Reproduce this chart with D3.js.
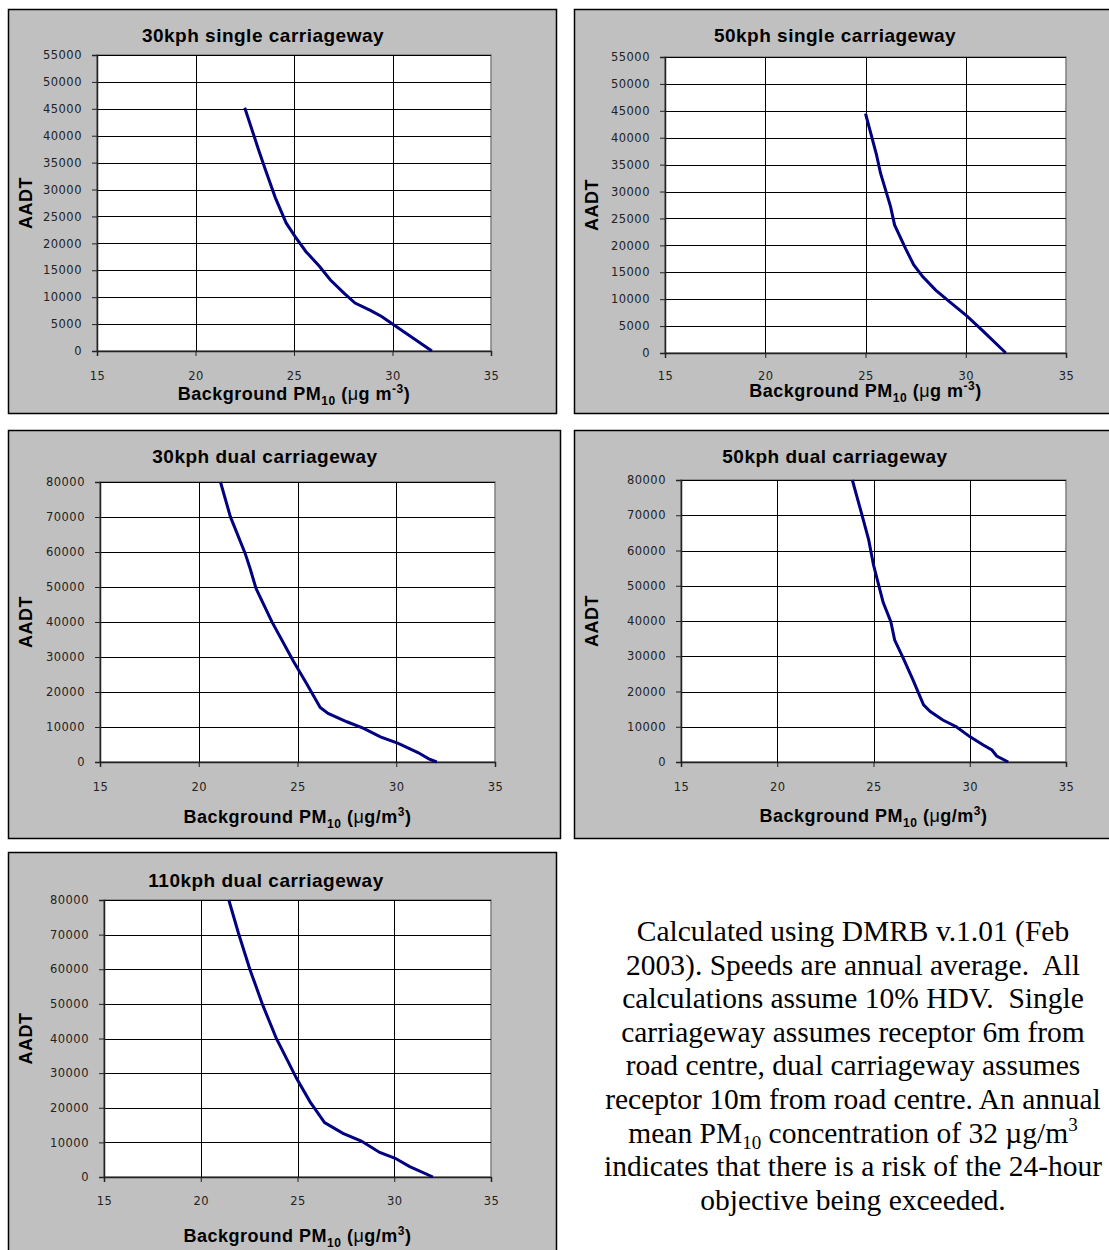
<!DOCTYPE html>
<html>
<head>
<meta charset="utf-8">
<script src="https://cdn.jsdelivr.net/npm/d3@7"></script>
<style>
  body { margin: 0; background: #fff; }
  svg { display: block; }
</style>
</head>
<body>
<svg id="chart" width="1109" height="1250"></svg>
<script>
// PM10 vs AADT charts

// Data

var xTicks = [15, 20, 25, 30, 35];
var yTicksSingle = [0, 5000, 10000, 15000, 20000, 25000, 30000, 35000, 40000, 45000, 50000, 55000];
var yTicksDual = [0, 10000, 20000, 30000, 40000, 50000, 60000, 70000, 80000];

var pm30Single   = [32.0, 30.0, 29.45, 28.9, 28.1, 27.55, 26.85, 26.3, 25.6, 25.05, 24.6, 24.05, 23.5, 23.2, 22.5];
var aadt30Single = [0, 5000, 6400, 7500, 8900, 10700, 13200, 15700, 18500, 21300, 23800, 28500, 34200, 37400, 45200];

var pm50Single   = [32.0, 30.8, 30.05, 29.2, 28.5, 27.85, 27.4, 27.0, 26.45, 26.25, 25.75, 25.55, 25.0];
var aadt50Single = [0, 4300, 6900, 9500, 11700, 14200, 16400, 19400, 23800, 27200, 33400, 36800, 44500];

var pm30Dual   = [32.05, 31.65, 31.1, 30.1, 29.2, 28.35, 27.5, 26.55, 26.15, 25.45, 24.8, 23.7, 22.9, 22.6, 22.35, 21.6, 21.1];
var aadt30Dual = [0, 900, 2700, 5300, 7200, 9600, 11500, 13900, 15600, 22500, 28700, 40100, 49600, 55300, 59600, 70100, 80000];

var pm50Dual   = [32.0, 31.4, 31.15, 30.7, 30.0, 29.3, 28.6, 27.95, 27.6, 27.05, 26.55, 26.1, 25.9, 25.5, 25.0, 24.75, 24.4, 23.9];
var aadt50Dual = [0, 1700, 3400, 4800, 7200, 10000, 11900, 14300, 16200, 23300, 29400, 34600, 39800, 45300, 55900, 63000, 70100, 80000];

var pm110Dual   = [32.0, 30.8, 30.05, 29.25, 28.3, 27.35, 26.4, 25.65, 24.95, 23.9, 23.2, 22.55, 21.95, 21.45];
var aadt110Dual = [0, 3000, 5400, 7100, 10400, 12600, 15700, 21700, 28500, 40100, 49700, 59800, 70400, 80000];

var titles = ["30kph single carriageway", "50kph single carriageway", "30kph dual carriageway",
              "50kph dual carriageway", "110kph dual carriageway"];

var noteLines = [
    "Calculated using DMRB v.1.01 (Feb",
    "2003). Speeds are annual average.  All",
    "calculations assume 10% HDV.  Single",
    "carriageway assumes receptor 6m from",
    "road centre, dual carriageway assumes",
    "receptor 10m from road centre. An annual",
    "mean PM|10| concentration of 32 \u00b5g/m^3^",
    "indicates that there is a risk of the 24-hour",
    "objective being exceeded."
];

// Panel layout

var panels = [
    { title: titles[0], pm: pm30Single, aadt: aadt30Single, yTicks: yTicksSingle, yMax: 55000,
      box: [8, 9, 548, 404], plot: [97, 491, 55, 351], titleX: 263, titleY: 42, tickY: 376, xTitleY: 400, unit: "single" },
    { title: titles[1], pm: pm50Single, aadt: aadt50Single, yTicks: yTicksSingle, yMax: 55000,
      box: [574, 9, 540, 404], plot: [665, 1066, 57, 353], titleX: 835, titleY: 42, tickY: 376, xTitleY: 397, unit: "single" },
    { title: titles[2], pm: pm30Dual, aadt: aadt30Dual, yTicks: yTicksDual, yMax: 80000,
      box: [8, 430, 552, 408], plot: [100, 495, 482, 762], titleX: 265, titleY: 463, tickY: 787, xTitleY: 823, unit: "dual" },
    { title: titles[3], pm: pm50Dual, aadt: aadt50Dual, yTicks: yTicksDual, yMax: 80000,
      box: [574, 430, 540, 408], plot: [681, 1066, 480, 762], titleX: 835, titleY: 463, tickY: 787, xTitleY: 822, unit: "dual" },
    { title: titles[4], pm: pm110Dual, aadt: aadt110Dual, yTicks: yTicksDual, yMax: 80000,
      box: [8, 852, 548, 410], plot: [104, 491, 900, 1177], titleX: 266, titleY: 887, tickY: 1201, xTitleY: 1242, unit: "dual" }
];

var svg = d3.select("#chart");
var sans = "'Liberation Sans', Arial, sans-serif";
var tickFont = "'DejaVu Sans', Verdana, sans-serif";

panels.forEach(function(p) {

    var g = svg.append("g");

    // Grey chart area
    g.append("rect")
        .attr("x", p.box[0] + 0.5).attr("y", p.box[1] + 0.5)
        .attr("width", p.box[2]).attr("height", p.box[3])
        .attr("fill", "#c0c0c0")
        .attr("stroke", "#000").attr("stroke-width", 1.5);

    var x = d3.scaleLinear().domain([15, 35]).range([p.plot[0], p.plot[1]]);
    var y = d3.scaleLinear().domain([0, p.yMax]).range([p.plot[3], p.plot[2]]);

    // White plot area
    g.append("rect")
        .attr("x", p.plot[0]).attr("y", p.plot[2])
        .attr("width", p.plot[1] - p.plot[0]).attr("height", p.plot[3] - p.plot[2])
        .attr("fill", "#fff")
        .attr("stroke", "#808080").attr("stroke-width", 1.5);

    // Gridlines
    g.append("g").selectAll("line").data(p.yTicks.slice(1)).enter().append("line")
        .attr("x1", p.plot[0]).attr("x2", p.plot[1])
        .attr("y1", function(d) { return Math.round(y(d)) + 0.5; })
        .attr("y2", function(d) { return Math.round(y(d)) + 0.5; })
        .attr("stroke", "#000");

    g.append("g").selectAll("line").data(xTicks.slice(1, -1)).enter().append("line")
        .attr("y1", p.plot[2]).attr("y2", p.plot[3])
        .attr("x1", function(d) { return Math.round(x(d)) + 0.5; })
        .attr("x2", function(d) { return Math.round(x(d)) + 0.5; })
        .attr("stroke", "#000");

    // Axes
    var xAxis = d3.axisBottom(x).tickValues(xTicks).tickSize(5).tickFormat(d3.format("d"));
    var yAxis = d3.axisLeft(y).tickValues(p.yTicks).tickSize(5).tickFormat(d3.format("d"));

    var gx = g.append("g")
        .attr("transform", "translate(0," + p.plot[3] + ")")
        .call(xAxis);
    gx.selectAll("text").attr("y", p.tickY - p.plot[3]).attr("dy", "0.35em");

    var gy = g.append("g")
        .attr("transform", "translate(" + p.plot[0] + ",0)")
        .call(yAxis);
    gy.selectAll("text").attr("x", -15);

    [gx, gy].forEach(function(ax) {
        ax.select(".domain").attr("stroke", "#222").attr("stroke-width", 1.5);
        ax.selectAll(".tick line").attr("stroke", "#222");
        ax.selectAll("text")
            .attr("fill", "#222")
            .style("font-family", tickFont)
            .style("font-size", "11.5px")
            .style("letter-spacing", "0.5px");
    });

    // Data line
    var line = d3.line()
        .x(function(d) { return x(d[0]); })
        .y(function(d) { return y(d[1]); });

    g.append("path")
        .datum(d3.zip(p.pm, p.aadt))
        .attr("d", line)
        .attr("fill", "none")
        .attr("stroke", "#000080")
        .attr("stroke-width", 3);

    // Title
    g.append("text")
        .attr("x", p.titleX)
        .attr("y", p.titleY)
        .attr("text-anchor", "middle")
        .style("font-family", sans)
        .style("font-weight", "bold")
        .style("font-size", "19px")
        .style("letter-spacing", "0.5px")
        .text(p.title);

    // Y axis title
    g.append("text")
        .attr("transform", "translate(" + (p.box[0] + 24) + "," + ((p.plot[2] + p.plot[3]) / 2) + ") rotate(-90)")
        .attr("text-anchor", "middle")
        .style("font-family", sans)
        .style("font-weight", "bold")
        .style("font-size", "18px")
        .style("letter-spacing", "0.5px")
        .text("AADT");

    // X axis title
    var xt = g.append("text")
        .attr("x", (p.plot[0] + p.plot[1]) / 2)
        .attr("y", p.xTitleY)
        .attr("text-anchor", "middle")
        .style("font-family", sans)
        .style("font-weight", "bold")
        .style("font-size", "18px")
        .style("letter-spacing", "0.5px");
    xt.append("tspan").text("Background PM");
    xt.append("tspan").attr("dy", 5).style("font-size", "12px").text("10");
    xt.append("tspan").attr("dy", -5).text(" (");
    xt.append("tspan").style("font-weight", "normal").text("\u03bc");
    if (p.unit === "single") {
        xt.append("tspan").text("g m");
        xt.append("tspan").attr("dy", -7).style("font-size", "12px").text("-3");
        xt.append("tspan").attr("dy", 7).text(")");
    } else {
        xt.append("tspan").text("g/m");
        xt.append("tspan").attr("dy", -7).style("font-size", "12px").text("3");
        xt.append("tspan").attr("dy", 7).text(")");
    }
});

// Note text
var note = svg.append("text")
    .attr("text-anchor", "middle")
    .style("font-family", "'Liberation Serif', 'Times New Roman', serif")
    .style("font-size", "29.5px")
    .style("white-space", "pre")
    .attr("fill", "#000");

noteLines.forEach(function(l, i) {
    var t = note.append("tspan").attr("x", 853).attr("y", 941 + i * 33.6);
    // |..| marks subscript, ^..^ marks superscript
    var parts = l.split(/(\|[^|]+\||\^[^^]+\^)/);
    var shift = 0;
    parts.forEach(function(s) {
        if (!s) return;
        var target = 0, size = null, txt = s;
        if (s[0] === "|") { target = 6; size = "19px"; txt = s.slice(1, -1); }
        else if (s[0] === "^") { target = -12; size = "19px"; txt = s.slice(1, -1); }
        var span = t.append("tspan").attr("dy", target - shift).text(txt);
        if (size) span.style("font-size", size);
        shift = target;
    });
});
</script>
</body>
</html>
